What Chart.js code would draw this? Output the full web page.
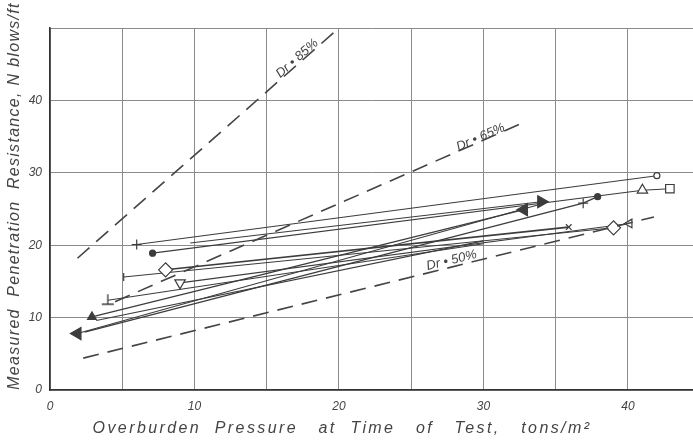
<!DOCTYPE html>
<html>
<head>
<meta charset="utf-8">
<script src="https://cdn.jsdelivr.net/npm/chart.js@4.4.1/dist/chart.umd.min.js"></script>
<style>
  html, body { margin: 0; padding: 0; background: #fff; }
  canvas { display: block; }
</style>
</head>
<body>
<canvas id="myChart" width="693" height="441"></canvas>
<script>
// tick labels
const xLabels = [0, 10, 20, 30, 40];
const yLabels = [0, 10, 20, 30, 40];

// relative density lines  [pressure t/m2, N]
const dr85 = [[1.9, 18.2], [20.0, 50.0]];
const dr65 = [[4.5, 12.2], [32.5, 36.7]];
const dr50 = [[2.3, 4.4], [41.8, 23.9]];
const drNames = ['Dr • 85%', 'Dr • 65%', 'Dr • 50%'];
const drLabelAt = [[17.1, 45.8], [29.8, 34.9], [27.8, 17.9]];

// test sites: shallow reading -> deep reading
const site1 = [[6.0, 20.1], [42.0, 29.6]];
const site2 = [[7.1, 18.9], [41.0, 27.6], [42.9, 27.8]];
const site3 = [[9.7, 20.3], [34.0, 26.0]];
const site4 = [[2.9, 10.1], [32.8, 24.9]];
const site5 = [[2.4, 8.0], [36.9, 25.8], [37.9, 26.7]];
const site6 = [[1.9, 7.8], [34.0, 25.7]];
const site7 = [[8.0, 16.6], [35.9, 22.5]];
const site8 = [[5.1, 15.6], [39.0, 22.4]];
const site9 = [[9.0, 14.8], [40.1, 23.0]];
const site10 = [[4.0, 12.4], [30.0, 20.2]];
const site11 = [[3.2, 9.6], [30.0, 20.6]];

const marks1 = ['plus', 'ring'];
const marks2 = ['dot', 'tri', 'square'];
const marks3 = ['none', 'arrowR'];
const marks4 = ['triFill', 'arrowL'];
const marks5 = ['none', 'plus', 'dot'];
const marks6 = ['arrowL', 'none'];
const marks7 = ['diamond', 'cross'];
const marks8 = ['tick', 'diamond'];
const marks9 = ['triDown', 'triDownR'];
const marks10 = ['perp', 'none'];
const marks11 = ['none', 'none'];

const ink = '#3c3c3c';

// little ⊥ symbol
const perp = document.createElement('canvas');
perp.width = 14; perp.height = 14;
(function () {
  const c = perp.getContext('2d');
  c.strokeStyle = ink; c.lineWidth = 1.3;
  c.beginPath();
  c.moveTo(7, 1); c.lineTo(7, 11);
  c.moveTo(1, 11); c.lineTo(13, 11);
  c.stroke();
})();

function markStyle(m) {
  switch (m) {
    case 'plus': return { s: 'cross', r: 5, rot: 0, bg: ink };
    case 'ring': return { s: 'circle', r: 3, rot: 0, bg: '#fff' };
    case 'dot': return { s: 'circle', r: 3, rot: 0, bg: ink };
    case 'tri': return { s: 'triangle', r: 6, rot: 0, bg: '#fff' };
    case 'triFill': return { s: 'triangle', r: 5, rot: 0, bg: ink };
    case 'square': return { s: 'rect', r: 6, rot: 0, bg: '#fff' };
    case 'diamond': return { s: 'rectRot', r: 7, rot: 0, bg: '#fff' };
    case 'cross': return { s: 'crossRot', r: 4, rot: 0, bg: ink };
    case 'arrowR': return { s: 'triangle', r: 7, rot: 90, bg: ink };
    case 'arrowL': return { s: 'triangle', r: 7, rot: -90, bg: ink };
    case 'triDown': return { s: 'triangle', r: 6, rot: 180, bg: '#fff' };
    case 'triDownR': return { s: 'triangle', r: 5, rot: 150, bg: '#fff' };
    case 'tick': return { s: 'line', r: 4, rot: 90, bg: ink };
    case 'perp': return { s: perp, r: 7, rot: 0, bg: ink };
    default: return { s: 'circle', r: 0, rot: 0, bg: ink };
  }
}

function site(points, marks, width) {
  const st = marks.map(markStyle);
  return {
    data: points.map(p => ({ x: p[0], y: p[1] })),
    showLine: true,
    borderColor: ink,
    borderWidth: width,
    pointStyle: st.map(o => o.s),
    pointRadius: st.map(o => o.r),
    pointRotation: st.map(o => o.rot),
    pointBackgroundColor: st.map(o => o.bg),
    pointBorderColor: ink,
    pointBorderWidth: 1.2
  };
}

function drLine(points) {
  return {
    data: points.map(p => ({ x: p[0], y: p[1] })),
    showLine: true,
    borderColor: '#444',
    borderWidth: 1.6,
    borderDash: [16, 9],
    pointRadius: 0
  };
}

const textPlugin = {
  id: 'texts',
  afterDraw(chart) {
    const ctx = chart.ctx;
    const xs = chart.scales.x, ys = chart.scales.y;
    ctx.save();
    ctx.fillStyle = '#444';
    ctx.textAlign = 'center';
    ctx.textBaseline = 'middle';

    // axis titles
    ctx.font = 'italic 16px "Liberation Sans"';
    ctx.letterSpacing = '2.4px';
    ctx.fillText('Overburden  Pressure   at  Time   of   Test,   tons/m²', 342, 429);
    ctx.letterSpacing = '1.3px';
    ctx.save();
    ctx.translate(15, 196);
    ctx.rotate(-Math.PI / 2);
    ctx.fillText('Measured  Penetration  Resistance, N blows/ft', 0, 0);
    ctx.restore();
    ctx.letterSpacing = '0px';

    // Dr labels along their lines
    ctx.font = 'italic 13px "Liberation Sans"';
    [dr85, dr65, dr50].forEach((ln, i) => {
      const x1 = xs.getPixelForValue(ln[0][0]), y1 = ys.getPixelForValue(ln[0][1]);
      const x2 = xs.getPixelForValue(ln[1][0]), y2 = ys.getPixelForValue(ln[1][1]);
      const ang = Math.atan2(y2 - y1, x2 - x1);
      ctx.save();
      ctx.translate(xs.getPixelForValue(drLabelAt[i][0]), ys.getPixelForValue(drLabelAt[i][1]));
      ctx.rotate(ang);
      ctx.fillText(drNames[i], 0, 0);
      ctx.restore();
    });
    ctx.restore();
  }
};

new Chart(document.getElementById('myChart').getContext('2d'), {
  type: 'scatter',
  data: {
    datasets: [
      drLine(dr85), drLine(dr65), drLine(dr50),
      site(site1, marks1, 1.1),
      site(site2, marks2, 1.1),
      site(site3, marks3, 1.1),
      site(site4, marks4, 1.3),
      site(site5, marks5, 1.3),
      site(site6, marks6, 1.1),
      site(site7, marks7, 1.6),
      site(site8, marks8, 1.1),
      site(site9, marks9, 1.1),
      site(site10, marks10, 1.1),
      site(site11, marks11, 1.1)
    ]
  },
  options: {
    responsive: false,
    animation: false,
    devicePixelRatio: 1,
    layout: { autoPadding: false, padding: { top: 28, right: 0, left: 0, bottom: 0 } },
    plugins: { legend: { display: false }, tooltip: { enabled: false } },
    scales: {
      x: {
        type: 'linear',
        min: 0,
        max: 44.5,
        afterBuildTicks: s => { s.ticks = s.ticks.filter(t => t.value % 5 === 0); },
        afterFit: s => { s.height = 51; },
        ticks: {
          stepSize: 5,
          autoSkip: false,
          maxRotation: 0,
          padding: 9,
          color: '#444',
          font: { family: 'Liberation Sans', style: 'italic', size: 12 },
          callback: v => xLabels.includes(v) ? v : ''
        },
        grid: { color: '#8a8a8a', lineWidth: 1, drawTicks: false },
        border: { color: '#333', width: 1.6 }
      },
      y: {
        min: 0,
        max: 50,
        afterFit: s => { s.width = 50; },
        ticks: {
          stepSize: 10,
          padding: 8,
          color: '#444',
          font: { family: 'Liberation Sans', style: 'italic', size: 12 },
          callback: v => yLabels.includes(v) ? v : ''
        },
        grid: { color: '#8a8a8a', lineWidth: 1, drawTicks: false },
        border: { color: '#333', width: 1.6 }
      }
    }
  },
  plugins: [textPlugin]
});
</script>
</body>
</html>
